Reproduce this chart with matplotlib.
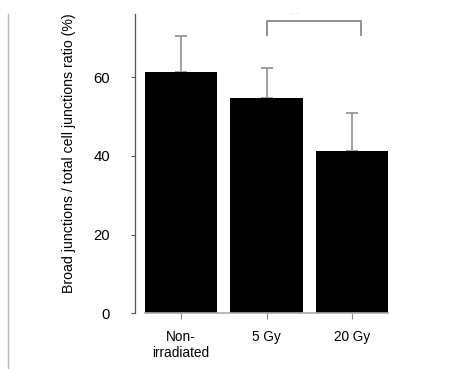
import matplotlib
matplotlib.use("Agg")
import matplotlib.pyplot as plt
from matplotlib.lines import Line2D

plt.rcParams['font.family'] = ['Liberation Sans', 'DejaVu Sans']

categorias = ["Non-\nirradiated", "5 Gy", "20 Gy"]
medias = [61.3, 54.7, 41.3]
errores = [9.2, 7.6, 9.5]
marcas_y = [0, 20, 40, 60]

fig = plt.figure(figsize=(4.65, 3.69), dpi=100)
# ejes: x en pixeles 135..390, y 0 en 313, 76 en ~14
ax = fig.add_axes([135 / 465, 1 - 313.3 / 369, (390.5 - 135) / 465, (313.3 - 14) / 369])

x = list(range(len(categorias)))
ax.bar(x, medias, width=0.845, color="black", zorder=2)
ax.errorbar(x, medias, yerr=[[0] * 3, errores], fmt="none", ecolor="#999999",
            elinewidth=1.3, capsize=4.5, capthick=1.3, zorder=1)

ax.set_xlim(-0.538, 2.45)
ax.set_ylim(0, 76)
ax.set_yticks(marcas_y)
ax.set_xticks(x)
ax.set_xticklabels(categorias, fontsize=9.8, linespacing=1.15)
ax.tick_params(axis="y", labelsize=10.7, length=3, width=0.8, color="#555555", pad=15)
ax.tick_params(axis="x", length=4, width=0.8, color="#888888", pad=8)
ax.set_ylabel("Broad junctions / total cell junctions ratio (%)", fontsize=10.2)
ax.yaxis.set_label_coords(-0.232, 0.536)

for lado in ["top", "right"]:
    ax.spines[lado].set_visible(False)
ax.spines["left"].set_color("#555555")
ax.spines["left"].set_linewidth(0.9)
ax.spines["bottom"].set_color("#aaaaaa")
ax.spines["bottom"].set_linewidth(1.2)
ax.spines["bottom"].set_bounds(-0.42, 2.42)

# corchete de significancia entre 5 Gy y 20 Gy
ax.plot([1.01, 1.01, 2.1, 2.1], [70.6, 74.2, 74.2, 70.6], color="#888888",
        lw=1.3, clip_on=False)
ax.text(1.33, 75.5, "-- --", fontsize=4, color="#cccccc", ha="center", va="bottom")

# linea vertical gris a la izquierda
fig.add_artist(Line2D([8 / 465, 8 / 465], [1 - 14 / 369, 0], color="#bbbbbb", lw=1.0))

fig.savefig("out.png", dpi=100)
